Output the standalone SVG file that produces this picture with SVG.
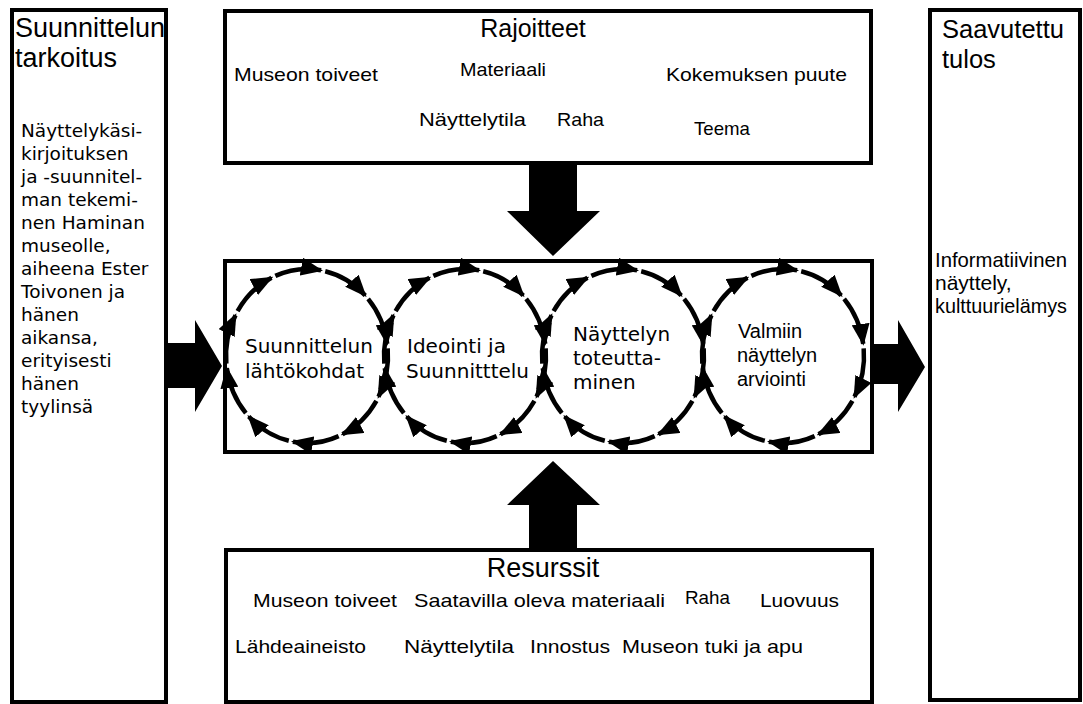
<svg xmlns="http://www.w3.org/2000/svg" width="1083" height="704" viewBox="0 0 1083 704">
<defs>
<style>
.box{fill:#fff;stroke:#000;stroke-width:4}
.arc{fill:none;stroke:#000;stroke-width:4.5;marker-end:url(#ah)}
.big{fill:#000}
.ls{font-family:"Liberation Sans",Arial,sans-serif;fill:#000}
.dv{font-family:"DejaVu Sans",sans-serif;fill:#000}
.item{font-family:"Liberation Sans",Arial,sans-serif;font-size:19px;fill:#000}
</style>
<marker id="ah" viewBox="0 0 22 18" refX="20" refY="9" markerWidth="22" markerHeight="18" markerUnits="userSpaceOnUse" orient="auto">
<path d="M0,0 L22,9 L0,18 z" fill="#000"/>
</marker>
<g id="loop">
<path class="arc" d="M-31.65,-80.08 A81,87 0 0 1 14.06,-85.68"/>
<path class="arc" d="M18.22,-84.77 A81,87 0 0 1 58.26,-60.44"/>
<path class="arc" d="M61.13,-57.08 A81,87 0 0 1 80.21,-12.11"/>
<path class="arc" d="M80.69,-7.58 A81,87 0 0 1 71.51,40.85"/>
<path class="arc" d="M69.43,44.81 A81,87 0 0 1 35.51,78.20"/>
<path class="arc" d="M31.65,80.08 A81,87 0 0 1 -14.06,85.68"/>
<path class="arc" d="M-18.22,84.77 A81,87 0 0 1 -58.26,60.44"/>
<path class="arc" d="M-61.13,57.08 A81,87 0 0 1 -80.21,12.11"/>
<path class="arc" d="M-80.69,7.58 A81,87 0 0 1 -71.51,-40.85"/>
<path class="arc" d="M-69.43,-44.81 A81,87 0 0 1 -35.51,-78.20"/>
</g>
</defs>
<rect width="1083" height="704" fill="#fff"/>

<g id="tarkoitus">
<rect class="box" x="12" y="10" width="154" height="692"/>
<text class="ls" font-size="27" x="15" y="37">Suunnittelun</text>
<text class="ls" font-size="27" x="15" y="67">tarkoitus</text>
<g class="dv" font-size="18.5">
<text x="21" y="137">Näyttelykäsi-</text>
<text x="21" y="160">kirjoituksen</text>
<text x="21" y="183">ja -suunnitel-</text>
<text x="21" y="206">man tekemi-</text>
<text x="21" y="229">nen Haminan</text>
<text x="21" y="252">museolle,</text>
<text x="21" y="275">aiheena Ester</text>
<text x="21" y="298">Toivonen ja</text>
<text x="21" y="321">hänen</text>
<text x="21" y="344">aikansa,</text>
<text x="21" y="367">erityisesti</text>
<text x="21" y="390">hänen</text>
<text x="21" y="413">tyylinsä</text>
</g>
</g>

<g id="rajoitteet">
<rect class="box" x="225" y="11" width="646" height="152" stroke-width="5"/>
<text class="ls" font-size="25" x="533" y="37" text-anchor="middle">Rajoitteet</text>
<text class="item" x="234" y="81" textLength="144" lengthAdjust="spacingAndGlyphs">Museon toiveet</text>
<text class="item" x="460" y="76" textLength="86" lengthAdjust="spacingAndGlyphs">Materiaali</text>
<text class="item" x="666" y="81" textLength="181" lengthAdjust="spacingAndGlyphs">Kokemuksen puute</text>
<text class="item" x="419" y="126" textLength="107" lengthAdjust="spacingAndGlyphs">Näyttelytila</text>
<text class="item" x="557" y="126" textLength="47" lengthAdjust="spacingAndGlyphs">Raha</text>
<text class="item" x="694" y="135" textLength="56" lengthAdjust="spacingAndGlyphs">Teema</text>
</g>

<g id="prosessi">
<rect class="box" x="225" y="261" width="647" height="191"/>
</g>

<g id="lahtokohdat">
<use href="#loop" transform="translate(307,356)"/>
<text class="dv" font-size="20" x="245" y="353">Suunnittelun</text>
<text class="dv" font-size="20" x="245" y="378">lähtökohdat</text>
</g>

<g id="ideointi">
<use href="#loop" transform="translate(465,356)"/>
<text class="dv" font-size="20" x="407" y="353">Ideointi ja</text>
<text class="dv" font-size="20" x="406" y="378">Suunnitttelu</text>
</g>

<g id="toteuttaminen">
<use href="#loop" transform="translate(623,356)"/>
<text class="dv" font-size="20" x="573" y="341">Näyttelyn</text>
<text class="dv" font-size="20" x="573" y="365">toteutta-</text>
<text class="dv" font-size="20" x="573" y="389">minen</text>
</g>

<g id="arviointi">
<use href="#loop" transform="translate(783,356)"/>
<text class="ls" font-size="20" x="738" y="338">Valmiin</text>
<text class="ls" font-size="20" x="737" y="362">näyttelyn</text>
<text class="ls" font-size="20" x="737" y="386">arviointi</text>
</g>

<g id="resurssit">
<rect class="box" x="226" y="550" width="646" height="152"/>
<text class="ls" font-size="27" x="543" y="577" text-anchor="middle">Resurssit</text>
<text class="item" x="253" y="607" textLength="144" lengthAdjust="spacingAndGlyphs">Museon toiveet</text>
<text class="item" x="414" y="607" textLength="251" lengthAdjust="spacingAndGlyphs">Saatavilla oleva materiaali</text>
<text class="item" x="685" y="604" textLength="45" lengthAdjust="spacingAndGlyphs">Raha</text>
<text class="item" x="760" y="607" textLength="79" lengthAdjust="spacingAndGlyphs">Luovuus</text>
<text class="item" x="235" y="653" textLength="131" lengthAdjust="spacingAndGlyphs">Lähdeaineisto</text>
<text class="item" x="404" y="653" textLength="110" lengthAdjust="spacingAndGlyphs">Näyttelytila</text>
<text class="item" x="530" y="653" textLength="80" lengthAdjust="spacingAndGlyphs">Innostus</text>
<text class="item" x="622" y="653" textLength="181" lengthAdjust="spacingAndGlyphs">Museon tuki ja apu</text>
</g>

<g id="tulos">
<rect class="box" x="930" y="10" width="150" height="690"/>
<text class="ls" font-size="25.5" x="942" y="38">Saavutettu</text>
<text class="ls" font-size="25.5" x="942" y="68">tulos</text>
<text class="ls" font-size="21" x="935" y="267" textLength="132" lengthAdjust="spacingAndGlyphs">Informatiivinen</text>
<text class="ls" font-size="21" x="935" y="290">näyttely,</text>
<text class="ls" font-size="21" x="935" y="313" textLength="132" lengthAdjust="spacingAndGlyphs">kulttuurielämys</text>
</g>

<g id="connectors">
<polygon class="big" points="166,343 195,343 195,320 222,366 195,412 195,388 166,388"/>
<polygon class="big" points="872,344 898,344 898,320 925,367 898,412 898,384 872,384"/>
<polygon class="big" points="529,163 577,163 577,211 600,211 553,256 507,211 529,211"/>
<polygon class="big" points="553,461 600,505 577,505 577,550 529,550 529,505 507,505"/>
</g>
</svg>
